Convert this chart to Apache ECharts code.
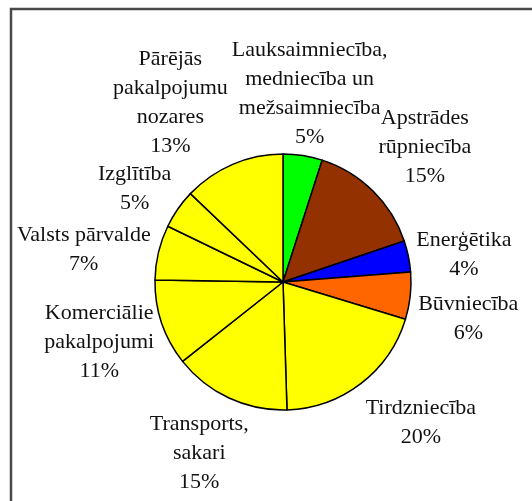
<!DOCTYPE html>
<html>
<head>
<meta charset="utf-8">
<script src="https://cdn.jsdelivr.net/npm/echarts@6/dist/echarts.min.js"></script>
<style>
  html, body { margin: 0; padding: 0; background: #fff; }
  #chart { width: 532px; height: 501px; }
</style>
</head>
<body>
<div id="chart"></div>
<script>
// nozares un to daļa (%)
var categories = [
    'Lauksaimniecība,\nmedniecība un\nmežsaimniecība',
    'Apstrādes\nrūpniecība',
    'Enerģētika',
    'Būvniecība',
    'Tirdzniecība',
    'Transports,\nsakari',
    'Komerciālie\npakalpojumi',
    'Valsts pārvalde',
    'Izglītība',
    'Pārējās\npakalpojumu\nnozares'
];
var shares = [5, 15, 4, 6, 20, 15, 11, 7, 5, 13];
var sliceColors = ['#00ff00', '#933100', '#0000ff', '#ff6600', '#ffff00',
                   '#ffff00', '#ffff00', '#ffff00', '#ffff00', '#ffff00'];

var cx = 283, cy = 282, r = 128   // pīrāga centrs un rādiuss
var labelGap = 8                  // attālums no pīrāga malas
var labelDrop = 4                 // teksts nedaudz zemāk, kā oriģinālā
var tolX = 12, tolY = 2           // cik lielu uzklāšanos pieļaujam
var placed = []                   // jau novietoto uzrakstu taisnstūri

var total = shares.reduce(function (a, b) { return a + b }, 0)

// vidējais leņķis katrai daļai (no pulksten 12, pulksteņrādītāja virzienā)
function midAngle(idx) {
    var before = 0
    for (var i = 0; i < idx; i++) before += shares[i]
    return (before + shares[idx] / 2) / total * Math.PI * 2
}

function clamp1(v) {
    return Math.max(-1, Math.min(1, v))
}

// cik tālu uzraksts "noslīd" uz sāniem attiecībā pret enkura punktu
function slideX(v) { return clamp1(v * Math.abs(v) * 3) }
function slideY(v) { return clamp1(1.6 * v * Math.sqrt(Math.abs(v))) }

var myChart = echarts.init(document.getElementById('chart'));

var option = {
    animation: false,
    backgroundColor: '#fff',
    graphic: [{
        type: 'rect',
        shape: { x: 11, y: 9, width: 600, height: 600 },
        style: { fill: 'none', stroke: '#4a4a4a', lineWidth: 2.5 },
        silent: true
    }],
    series: [{
        type: 'pie',
        center: [cx, cy],
        radius: [0, r],
        startAngle: 90,
        clockwise: true,
        avoidLabelOverlap: false,
        itemStyle: { borderColor: '#000', borderWidth: 1.5 },
        emphasis: { disabled: true },
        label: {
            show: true,
            position: 'outside',
            color: '#111',
            fontFamily: 'Liberation Serif',
            fontSize: 22,
            lineHeight: 29,
            align: 'center',
            formatter: function (p) {
                return p.name + '\n' + p.value + '%'
            }
        },
        labelLine: { show: false },
        labelLayout: function (params) {
            var i = params.dataIndex
            var a = midAngle(i)
            var dx = Math.sin(a), dy = -Math.cos(a)
            var w = params.labelRect.width, h = params.labelRect.height
            var x = cx + (r + labelGap) * dx + w / 2 * slideX(dx)
            var y = cy + (r + labelGap) * dy + h / 2 * slideY(dy) + labelDrop

            // ja uzraksts uzklājas iepriekšējam, pabīdām pa īsāko ceļu
            for (var j = 0; j < i; j++) {
                var b = placed[j]
                if (!b) continue
                var ox = (w + b.w) / 2 - Math.abs(x - b.x)
                var oy = (h + b.h) / 2 - Math.abs(y - b.y)
                if (ox > tolX && oy > tolY) {
                    if (ox < oy) x += (x < b.x ? -1 : 1) * (ox + 4)
                    else y += (y < b.y ? -1 : 1) * (oy + 6)
                }
            }
            placed[i] = { x: x, y: y, w: w, h: h }

            return {
                x: x,
                y: y,
                align: 'center',
                verticalAlign: 'middle'
            }
        },
        data: categories.map(function (name, i) {
            return { name: name, value: shares[i], itemStyle: { color: sliceColors[i] } }
        })
    }]
};

myChart.setOption(option);
</script>
</body>
</html>
